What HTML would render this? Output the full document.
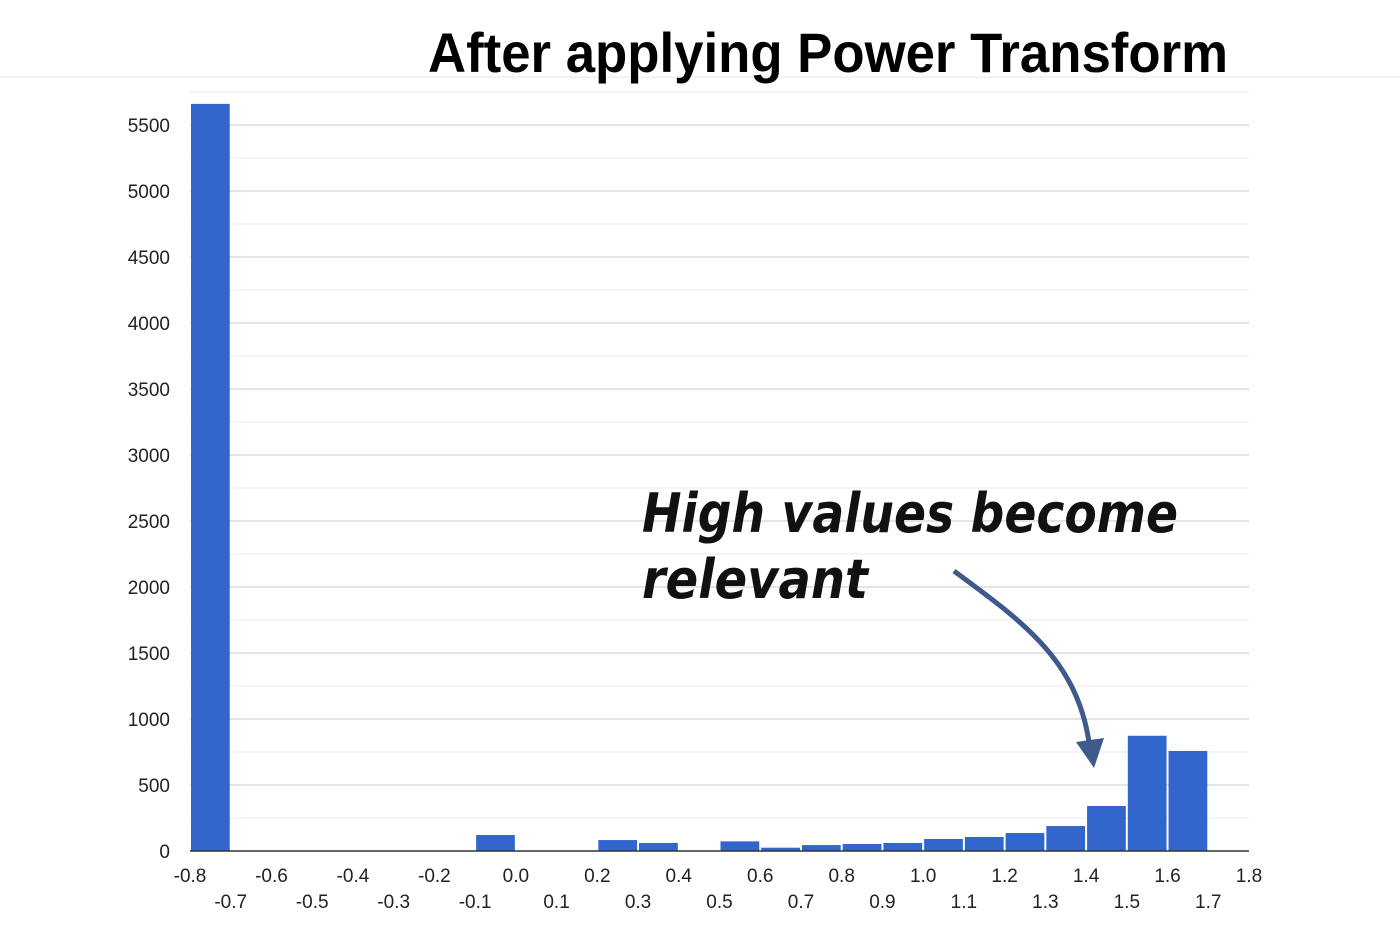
<!DOCTYPE html>
<html><head><meta charset="utf-8"><style>
body{margin:0;background:#fff;width:1400px;height:952px;overflow:hidden}
svg{display:block}
</style></head><body>
<svg id="chart" width="1400" height="952">
<line x1="0" y1="77" x2="1400" y2="77" stroke="#e4e4e4"/>
<text x="428" y="72" font-family="Liberation Sans, sans-serif" font-weight="bold" font-size="56" textLength="800" lengthAdjust="spacingAndGlyphs" fill="#000">After applying Power Transform</text>
<g id="grid"></g><g id="bars"></g><g id="labels"></g>
<line x1="190" y1="851" x2="1249" y2="851" stroke="#333" stroke-width="1.5"/>
<text x="642" y="532" font-family="DejaVu Sans, sans-serif" font-style="italic" font-weight="bold" font-size="54" textLength="536" lengthAdjust="spacingAndGlyphs" fill="#111">High values become</text>
<text x="642" y="598" font-family="DejaVu Sans, sans-serif" font-style="italic" font-weight="bold" font-size="54" textLength="226" lengthAdjust="spacingAndGlyphs" fill="#111">relevant</text>
<path d="M954 571 C1020 620 1080 660 1090 750" fill="none" stroke="#3f5a8a" stroke-width="5"/>
<polygon points="1076,742 1104,738 1094,768" fill="#3f5a8a"/>
</svg>
<script>
const binStarts=[-0.8,-0.1,0.2,0.3,0.5,0.6,0.7,0.8,0.9,1.0,1.1,1.2,1.3,1.4,1.5,1.6];
const counts=[5660,121,83,61,73,25,45,53,61,91,106,136,189,341,873,758];
const yTicks=[0,500,1000,1500,2000,2500,3000,3500,4000,4500,5000,5500];
const xTicks=["-0.8","-0.7","-0.6","-0.5","-0.4","-0.3","-0.2","-0.1","0.0","0.1","0.2","0.3","0.4","0.5","0.6","0.7","0.8","0.9","1.0","1.1","1.2","1.3","1.4","1.5","1.6","1.7","1.8"];
const NS="http://www.w3.org/2000/svg";
const x=v=>190+(v+0.8)/2.6*1059;
const y=v=>851-v*0.132;
const grid=document.getElementById('grid'),bars=document.getElementById('bars'),labels=document.getElementById('labels');
function mk(tag,attrs,parent){const e=document.createElementNS(NS,tag);for(const k in attrs)e.setAttribute(k,attrs[k]);parent.appendChild(e);return e;}
for(let v=250;v<=5750;v+=500){
 const l=mk('line',{x1:190,x2:1249,y1:y(v),y2:y(v),stroke:'#ebebeb'},grid);
 
 
}
yTicks.forEach(t=>{
 if(t>0){const l=mk('line',{x1:190,x2:1249,y1:y(t),y2:y(t),stroke:'#c8c8c8'},grid);
 
 }
 const tx=mk('text',{x:170,y:y(t)+7,'text-anchor':'end','font-family':'Liberation Sans, sans-serif','font-size':19,fill:'#222'},labels);
 tx.textContent=t;
 
 
});
binStarts.forEach((b,i)=>{
 const x0=x(b)+1,x1=x(b+0.1)-1;
 const r=mk('rect',{x:x0,y:y(counts[i]),width:x1-x0,height:851-y(counts[i]),fill:'#3366cc'},bars);
 
 
});
xTicks.forEach((t,i)=>{
 const v=-0.8+i*0.1;
 const tx=mk('text',{x:x(v),y:i%2===0?882:908,'text-anchor':'middle','font-family':'Liberation Sans, sans-serif','font-size':19,fill:'#222'},labels);
 tx.textContent=t;
 
 
});
</script>
</body></html>
